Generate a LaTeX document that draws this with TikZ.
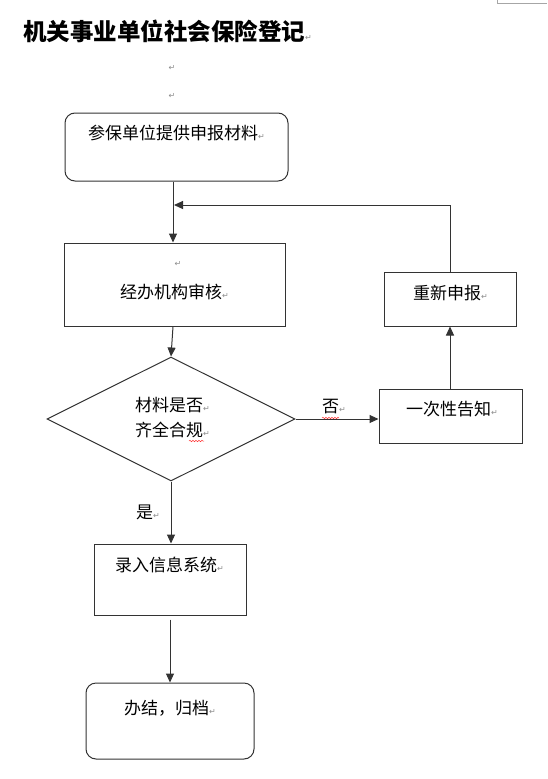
\documentclass[tikz,border=0pt]{standalone}
\usepackage{fontspec}
\setmainfont{Noto Sans CJK SC}
\newfontfamily\symfont{DejaVu Sans}
\usetikzlibrary{arrows.meta,shapes.geometric,decorations.pathmorphing}
\newcommand\pmark{{\symfont\fontsize{8}{8}\selectfont\color{black!45}↵}}
\tikzset{
  shp/.style={draw=black!80, line width=1pt, inner sep=0pt, text=black},
  boxshape/.style={shp, rectangle},
  rboxshape/.style={shp, rectangle, rounded corners=10pt},
  txt/.style={anchor=west, inner sep=0pt, font=\fontsize{17}{17}\selectfont, text=black},
  conn/.style={draw=black!80, line width=1pt, -{Triangle[length=9pt,width=8pt]}},
  plain/.style={draw=black!80, line width=1pt},
  spell/.style={draw=red!80, line width=0.5pt, decorate, decoration={snake, amplitude=0.7pt, segment length=3pt}}
}
\begin{document}
\begin{tikzpicture}[x=1pt,y=-1pt]
\useasboundingbox (0,0) rectangle (547,779);
\fill[white] (0,0) rectangle (547,779);
% corner fragment
\draw[black!35, line width=0.6pt] (497,0) -- (497,3) -- (547,3);

% title
\node[anchor=west, inner sep=0pt] (title) at (23,31) {{\bfseries\fontsize{23.5}{24}\selectfont 机关事业单位社会保险登记}\pmark};
\node[inner sep=0pt] (r1) at (172,68) {\pmark};
\node[inner sep=0pt] (r2) at (172,96) {\pmark};

% shapes
\node[rboxshape, minimum width=223pt, minimum height=68pt] (b1) at (176.5,147) {};
\node[boxshape, minimum width=221pt, minimum height=83pt] (b2) at (174.5,284.5) {};
\node[shp, diamond, aspect=2, minimum width=248pt, minimum height=124pt] (dia) at (171,419) {};
\node[boxshape, minimum width=132pt, minimum height=54pt] (re) at (450,299) {};
\node[boxshape, minimum width=143pt, minimum height=54pt] (yc) at (450.5,416) {};
\node[boxshape, minimum width=152pt, minimum height=71pt] (b3) at (170,579.5) {};
\node[rboxshape, minimum width=168pt, minimum height=76pt] (b4) at (170,721) {};

% texts
\node[txt] (t1) at (88,133) {参保单位提供申报材料\pmark};
\node[inner sep=0pt] (t2r) at (178,264) {\pmark};
\node[txt] (t2) at (120,292) {经办机构审核\pmark};
\node[txt] (t3) at (413,293) {重新申报\pmark};
\node[txt] (t4) at (406,409) {一次性告知\pmark};
\node[txt] (t5) at (135,405) {材料是否\pmark};
\node[txt] (t6) at (135,430) {齐全合规\pmark};
\node[txt] (no) at (322,407) {否\pmark};
\node[txt] (yes) at (136,512) {是\pmark};
\node[txt] (t7) at (115,565) {录入信息系统\pmark};
\node[txt] (t8) at (124,708) {办结，归档\pmark};

\draw[spell] (322,418) -- (339,418);
\draw[spell] (189,441) -- (204,441);

% connectors
\coordinate (fb) at (173,205);
\draw[conn] (b1.south -| fb) -- (b2.north -| fb);
\draw[conn] (b2.south -| fb) -- (dia.north);
\draw[conn] (dia.east) -- (dia.east -| yc.west);
\draw[conn] (re.south |- yc.north) -- (re.south);
\draw[conn] (re.north) -- (re.north |- fb) -- ([xshift=1pt]fb);
\draw[conn] (dia.south) -- (dia.south |- b3.north);
\draw[conn, shorten <=4pt] (b3.south) -- (b4.north);
\end{tikzpicture}
\end{document}
